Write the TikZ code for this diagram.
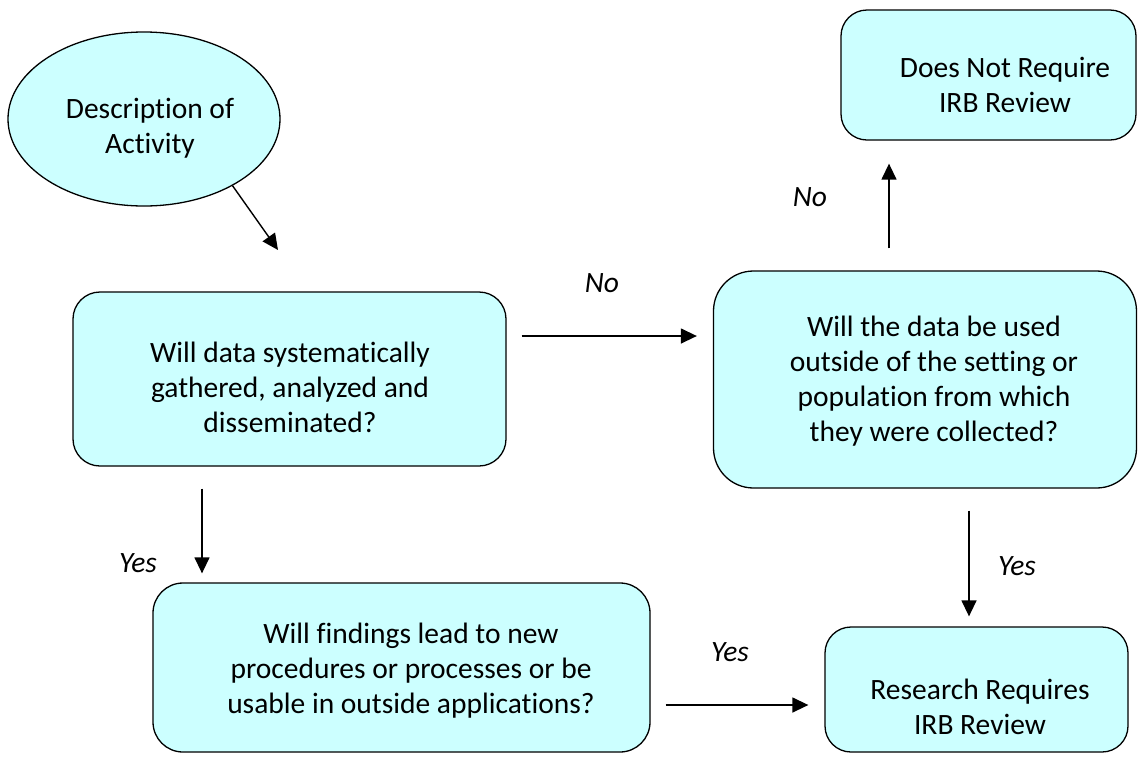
\documentclass[tikz,border=0pt]{standalone}
\usepackage{fontspec}
\setmainfont{Carlito}[Ligatures=NoCommon]
\usetikzlibrary{shapes.geometric,arrows.meta}
\definecolor{boxfill}{HTML}{CCFFFF}
\tikzset{
  x=1pt, y=-1pt,
  shapebox/.style={draw=black, line width=1.3pt, fill=boxfill, rectangle, inner sep=0pt},
  ovalbox/.style={draw=black, line width=1.3pt, fill=boxfill, ellipse, inner sep=0pt},
  boxtext/.style={align=center, inner sep=0pt, font=\fontsize{29.5}{35}\selectfont},
  lbl/.style={inner sep=0pt, font=\fontsize{29.5}{35}\selectfont\itshape},
  arr/.style={line width=1.4pt, -{Triangle[length=16pt,width=15pt]}}
}
\begin{document}
\begin{tikzpicture}
\useasboundingbox (0,0) rectangle (1138,756);
% shapes
\node[ovalbox, minimum width=272pt, minimum height=174pt] (e) at (144,119) {};
\node[shapebox, rounded corners=27pt, minimum width=433pt, minimum height=174pt] (b1) at (289.5,379) {};
\node[shapebox, rounded corners=40pt, minimum width=423pt, minimum height=217pt] (b2) at (925,379.5) {};
\node[shapebox, rounded corners=26pt, minimum width=295pt, minimum height=130pt] (b3) at (988.5,75) {};
\node[shapebox, rounded corners=30pt, minimum width=497pt, minimum height=169pt] (b4) at (401.5,667.5) {};
\node[shapebox, rounded corners=26pt, minimum width=303pt, minimum height=125pt] (b5) at (976.5,689.5) {};
% texts
\node[boxtext] (et) at (150,128) {Description of\\Activity};
\node[boxtext] (b1t) at (290,387) {Will data systematically\\gathered, analyzed and\\disseminated?};
\node[boxtext] (b2t) at (934,381) {Will the data be used\\outside of the setting or\\population from which\\they were collected?};
\node[boxtext] (b3t) at (1005,85) {Does Not Require\\IRB Review};
\node[boxtext] (b4t) at (411,671) {Will findings lead to new\\procedures or processes or be\\usable in outside applications?};
\node[boxtext] (b5t) at (980,707) {Research Requires\\IRB Review};
% connectors
\coordinate (a1end) at (278,250);
\draw[arr] (e.-37) -- (a1end);
\draw[arr] ([xshift=15pt]b1.east |- 0,336) -- ([xshift=-16pt]b2.west |- 0,336);
\draw[arr] ([yshift=22pt]b2.north -| 889,0) -- ([yshift=-23pt]b3.south -| 889,0);
\draw[arr] ([yshift=-22pt]b1.south -| 202,0) -- ([yshift=9pt]b4.north -| 202,0);
\draw[arr] ([yshift=-22pt]b2.south -| 969,0) -- ([yshift=10pt]b5.north -| 969,0);
\draw[arr] ([xshift=15pt]b4.east |- 0,705) -- ([xshift=-16pt]b5.west |- 0,705);
% labels
\node[lbl] (l1) at (602,283) {No};
\node[lbl] (l2) at (810,197) {No};
\node[lbl] (l3) at (138,563) {Yes};
\node[lbl] (l4) at (1017,566) {Yes};
\node[lbl] (l5) at (730,652) {Yes};
\end{tikzpicture}
\end{document}
